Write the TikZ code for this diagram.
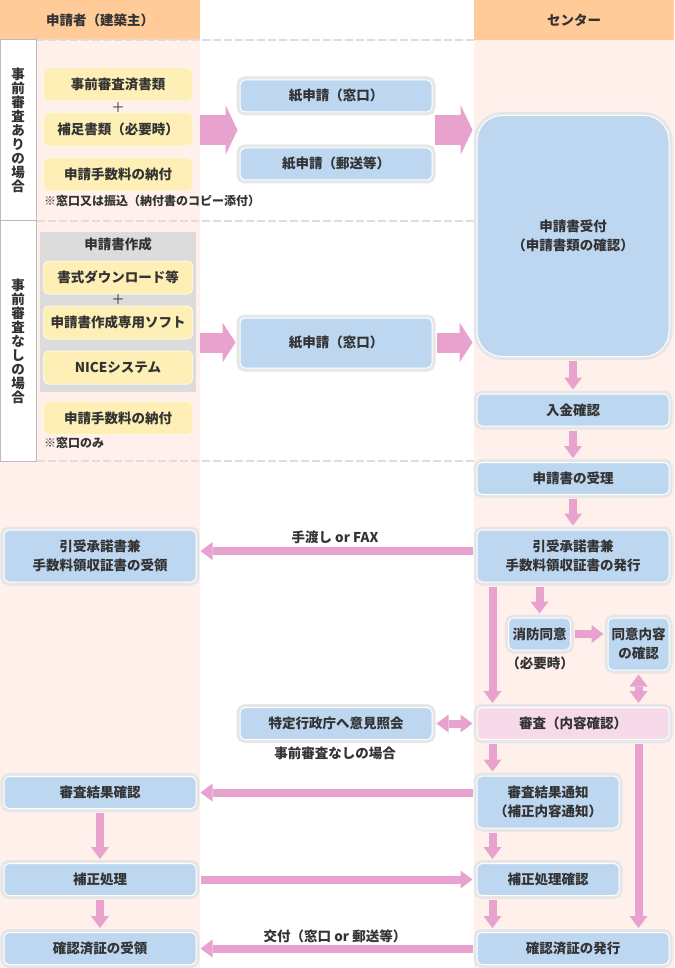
\documentclass[tikz,border=0pt]{standalone}
\usepackage{fontspec}
\setmainfont{Noto Sans CJK JP}
\usetikzlibrary{arrows.meta, positioning}
\definecolor{hdrOrange}{HTML}{FFCC99}
\definecolor{laneTint}{HTML}{FFF0EB}
\definecolor{boxBlue}{HTML}{BDD7F1}
\definecolor{boxYellow}{HTML}{FDEFB6}
\definecolor{boxPink}{HTML}{F7DAEA}
\definecolor{flowPink}{HTML}{E8A2CE}
\definecolor{ringGray}{HTML}{E6E6E6}
\definecolor{padGray}{HTML}{DCDCDC}
\definecolor{inkDark}{HTML}{333333}
\definecolor{dashGray}{HTML}{DDDDDD}
\definecolor{edgeGray}{HTML}{BBBBBB}
\newcommand{\mainsize}{\fontsize{13.5pt}{19pt}\selectfont\bfseries}
\newcommand{\notesize}{\fontsize{12pt}{14pt}\selectfont\bfseries}

\begin{document}
\begin{tikzpicture}[
    x=1pt, y=-1pt,
    every node/.style={text=inkDark, inner sep=0pt},
    hdr/.style={fill=hdrOrange, minimum width=200pt, minimum height=40pt, font=\mainsize},
    flowbox/.style={rectangle, rounded corners=5pt, fill=boxBlue, draw=white, line width=1pt,
                preaction={draw=ringGray, line width=7pt},
                minimum width=192pt, minimum height=32pt, font=\mainsize, align=center},
    twoline/.style={flowbox, minimum height=52pt},
    docbox/.style={rectangle, rounded corners=5pt, fill=boxYellow, draw=white!55!boxYellow,
                line width=1pt, minimum width=149pt, minimum height=33pt, font=\mainsize},
    note/.style={font=\notesize, anchor=west},
    plain/.style={font=\mainsize},
    lanelabel/.style={draw=edgeGray, fill=white, line width=1pt, minimum width=36pt,
                font=\fontsize{13.5pt}{14pt}\selectfont\bfseries, align=center},
    pipeFat/.style={draw=flowPink, line width=30pt, -{Triangle[width=50pt, length=12pt, line width=0pt]}},
    pipeMid/.style={draw=flowPink, line width=20pt, -{Triangle[width=40pt, length=13pt, line width=0pt]}},
    pipe/.style={draw=flowPink, line width=8pt, -{Triangle[width=18pt, length=12pt, line width=0pt]},
                shorten >=4pt, shorten <=4pt},
    pipeBoth/.style={pipe, {Triangle[width=18pt, length=12pt, line width=0pt]}-{Triangle[width=18pt, length=12pt, line width=0pt]}},
  ]
    \useasboundingbox (0,0) rectangle (674,968);

    % lanes and headers
    \fill[laneTint] (0,40) rectangle (200,968);
    \fill[laneTint] (474,40) rectangle (674,968);
    \node[hdr] (hdrApplicant) at (100,20) {申請者（建築主）};
    \node[hdr] (hdrCenter) at (574,20) {センター};
    \node[lanelabel, minimum height=181pt] (caseWith) at (18,130.5) {事\\前\\審\\査\\あ\\り\\の\\場\\合};
    \node[lanelabel, minimum height=240pt] (caseWithout) at (18,341) {事\\前\\審\\査\\な\\し\\の\\場\\合};
    \foreach \yy in {40,221,461}{
      \draw[dashGray, line width=1.5pt, dash pattern=on 8pt off 3pt] (37,\yy) -- (474,\yy);
    }

    % with pre-check
    \node[docbox] (docPre) at (118,84.5) {事前審査済書類};
    \node[plain, font=\mainsize\mdseries] (plusA) at (118,108) {＋};
    \node[docbox] (docExtra) at (118,129.5) {補足書類（必要時）};
    \node[docbox] (feeA) at (118,174.5) {申請手数料の納付};
    \node[note] (noteA) at (44,201) {※窓口又は振込（納付書のコピー添付）};
    \node[flowbox] (paperWin) at (336,96) {紙申請（窓口）};
    \node[flowbox] (paperPost) at (336,164) {紙申請（郵送等）};
    \node[flowbox, minimum height=241pt, rounded corners=25pt] (intake) at (573,236) {申請書受付\\（申請書類の確認）};
    \coordinate (laneEdgeA) at (200,130);
    \draw[pipeFat, shorten >=2pt] (laneEdgeA) -- (laneEdgeA -| paperWin.west);
    \draw[pipeFat, shorten <=2pt, shorten >=4pt] (laneEdgeA -| paperWin.east) -- (laneEdgeA -| intake.west);

    % without pre-check
    \node[fill=padGray, minimum width=156pt, minimum height=160pt] (draftPad) at (118,312) {};
    \node[plain] (draftTitle) at (118,244) {申請書作成};
    \node[docbox] (dlForms) at (118,277.5) {書式ダウンロード等};
    \node[plain, font=\mainsize\mdseries] (plusB) at (118,300) {＋};
    \node[docbox] (draftSoft) at (118,322.5) {申請書作成専用ソフト};
    \node[docbox] (niceSys) at (118,367.5) {NICEシステム};
    \node[docbox] (feeB) at (118,418) {申請手数料の納付};
    \node[note] (noteB) at (44,443) {※窓口のみ};
    \node[flowbox, minimum height=50pt] (paperWinB) at (336,343) {紙申請（窓口）};
    \coordinate (laneEdgeB) at (200,342.5);
    \draw[pipeMid, shorten >=4pt] (laneEdgeB) -- (laneEdgeB -| paperWinB.west);
    \draw[pipeMid, shorten <=4pt, shorten >=4pt] (laneEdgeB -| paperWinB.east) -- (laneEdgeB -| intake.west);

    % center side
    \node[flowbox] (payCheck) at (573,410) {入金確認};
    \node[flowbox] (accept) at (573,478.5) {申請書の受理};
    \node[twoline] (issueAck) at (573,556) {引受承諾書兼\\手数料領収証書の発行};
    \node[twoline] (recvAck) at (100,556) {引受承諾書兼\\手数料領収証書の受領};
    \node[flowbox, minimum width=62pt] (fireOK) at (539.5,634) {消防同意};
    \node[plain] (fireNote) at (540,663) {（必要時）};
    \node[twoline, minimum width=61pt] (fireCheck) at (638.5,644) {同意内容\\の確認};
    \node[flowbox, fill=boxPink] (review) at (573,723.5) {審査（内容確認）};
    \node[flowbox] (askGov) at (336,723.5) {特定行政庁へ意見照会};
    \node[plain] (askNote) at (335,753) {事前審査なしの場合};
    \node[twoline, minimum width=142pt] (notice) at (548,802) {審査結果通知\\（補正内容通知）};
    \node[flowbox] (resultCheck) at (100,792.5) {審査結果確認};
    \node[flowbox] (fix) at (100,879.5) {補正処理};
    \node[flowbox, minimum width=142pt] (fixCheck) at (548,879.5) {補正処理確認};
    \node[flowbox] (certGet) at (100,948.5) {確認済証の受領};
    \node[flowbox] (certIssue) at (573,948.5) {確認済証の発行};
    \node[plain] (handNote) at (335,537) {手渡し or FAX};
    \node[plain] (deliverNote) at (335,936) {交付（窓口 or 郵送等）};

    % flow
    \draw[pipe] (intake.south) -- (payCheck.north);
    \draw[pipe] (payCheck.south) -- (accept.north);
    \draw[pipe] (accept.south) -- (issueAck.north);
    \draw[pipe] ([yshift=5pt]issueAck.west) -- ([yshift=5pt]recvAck.east);
    \draw[pipe] ([xshift=16pt]issueAck.south west) -- ([xshift=16pt]issueAck.south west |- review.north);
    \draw[pipe] (issueAck.south -| fireOK) -- (fireOK.north);
    \draw[pipe] (fireOK.east) -- (fireOK.east -| fireCheck.west);
    \draw[pipeBoth] (fireCheck.south) -- (fireCheck.south |- review.north);
    \draw[pipeBoth] (askGov.east) -- (review.west);
    \draw[pipe] ([xshift=16pt]review.south west) -- ([xshift=16pt]notice.north west);
    \draw[pipe] (review.south -| fireCheck) -- (certIssue.north -| fireCheck);
    \draw[pipe] (resultCheck.east -| notice.west) -- (resultCheck.east);
    \draw[pipe] (resultCheck.south) -- (fix.north);
    \draw[pipe] (fix.east) -- (fix.east -| fixCheck.west);
    \draw[pipe] ([xshift=16pt]notice.south west) -- ([xshift=16pt]fixCheck.north west);
    \draw[pipe] ([xshift=16pt]fixCheck.south west) -- ([xshift=16pt]fixCheck.south west |- certIssue.north);
    \draw[pipe] (fix.south) -- (certGet.north);
    \draw[pipe] (certIssue.west) -- (certGet.east);
  \end{tikzpicture}
\end{document}
